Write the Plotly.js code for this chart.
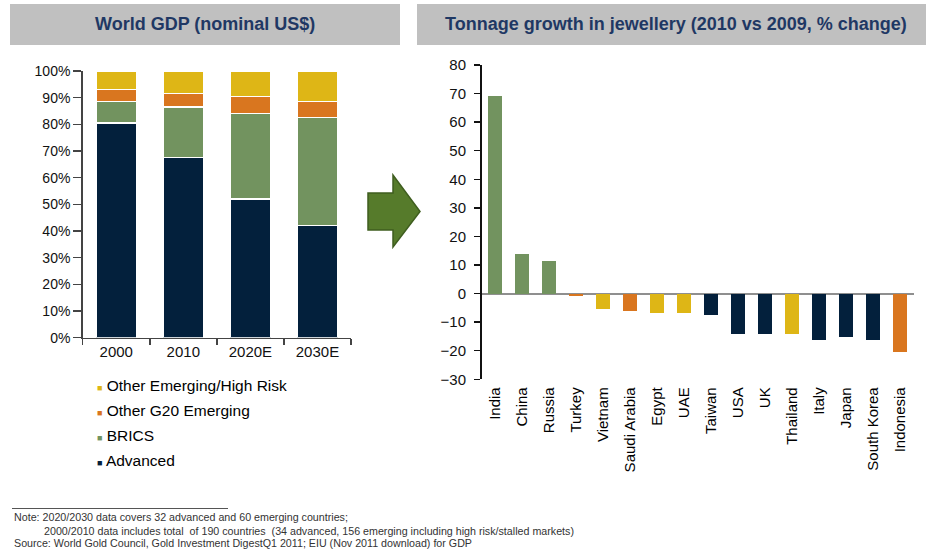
<!DOCTYPE html>
<html>
<head>
<meta charset="utf-8">
<script src="https://cdn.plot.ly/plotly-3.0.1.min.js"></script>
<style>
  html, body { margin: 0; padding: 0; background: #fff; }
  #chart { width: 926px; height: 550px; }
</style>
</head>
<body>
<div id="chart"></div>
<script>
// World GDP shares (% of total, nominal US$)
const gdpYears = ['2000', '2010', '2020E', '2030E'];
const advanced = [80.5, 67.5, 52, 42];
const brics = [8, 19, 32, 40.5];
const otherG20 = [4.5, 5, 6.5, 6];
const otherHighRisk = [7, 8.5, 9.5, 11.5];

// jewellery tonnage growth, 2010 vs 2009 (%)
const countries = ['India', 'China', 'Russia', 'Turkey', 'Vietnam', 'Saudi Arabia', 'Egypt', 'UAE',
  'Taiwan', 'USA', 'UK', 'Thailand', 'Italy', 'Japan', 'South Korea', 'Indonesia'];
const growth = [69, 14, 11.5, -1, -5.3, -6, -6.7, -6.7, -7.4, -14.3, -14.3, -14.3, -16.4, -15.2, -16.4, -20.5];
const countryGroup = ['BRICS', 'BRICS', 'BRICS', 'Other G20 Emerging', 'Other Emerging/High Risk',
  'Other G20 Emerging', 'Other Emerging/High Risk', 'Other Emerging/High Risk', 'Advanced', 'Advanced',
  'Advanced', 'Other Emerging/High Risk', 'Advanced', 'Advanced', 'Advanced', 'Other G20 Emerging'];

const colors = {
  'Advanced': '#03203c',
  'BRICS': '#72935f',
  'Other G20 Emerging': '#d9761f',
  'Other Emerging/High Risk': '#deb616'
};

const W = 926, H = 550;
const px = x => x / W;
const py = y => 1 - y / H;
const font = 'Liberation Sans, Arial, sans-serif';

function stackTrace(name, vals) {
  return {
    x: gdpYears, y: vals, name: name, type: 'bar', width: 0.6,
    xaxis: 'x', yaxis: 'y', showlegend: false, hoverinfo: 'y',
    marker: { color: colors[name], line: { color: '#fff', width: 1.2 } }
  };
}

let traces = [
  stackTrace('Advanced', advanced),
  stackTrace('BRICS', brics),
  stackTrace('Other G20 Emerging', otherG20),
  stackTrace('Other Emerging/High Risk', otherHighRisk),
  {
    x: countries, y: growth, type: 'bar', width: 0.52,
    xaxis: 'x2', yaxis: 'y2', showlegend: false,
    marker: { color: countryGroup.map(g => colors[g]) }
  }
];

function label(x, y, text, size, color, anchor) {
  return {
    xref: 'paper', yref: 'paper', x: px(x), y: py(y),
    xanchor: anchor || 'left', yanchor: 'middle', showarrow: false,
    text: text, font: { family: font, size: size, color: color }
  };
}

// legend rows built as text, top entry first
const legendOrder = ['Other Emerging/High Risk', 'Other G20 Emerging', 'BRICS', 'Advanced'];
let annotations = legendOrder.map((name, i) =>
  label(95, 385 + i * 25.2,
    '<span style="color:' + colors[name] + ';font-size:9px">■</span> ' + name, 15.5, '#000'));

annotations.push(
  label(205, 24, '<b>World GDP (nominal US$)</b>', 18, '#1f3864', 'center'),
  label(676, 24, '<b>Tonnage growth in jewellery (2010 vs 2009, % change)</b>', 18, '#1f3864', 'center'),
  label(12, 516.5, 'Note: 2020/2030 data covers 32 advanced and 60 emerging countries;', 10.7, '#333'),
  label(42, 531, '2000/2010 data includes total  of 190 countries  (34 advanced, 156 emerging including high risk/stalled markets)', 10.7, '#333'),
  label(12, 542.5, 'Source: World Gold Council, Gold Investment DigestQ1 2011; EIU (Nov 2011 download) for GDP', 10.7, '#333')
);

const arrowPts = [[368, 193], [393, 193], [393, 175], [420, 211.5], [393, 247], [393, 230], [368, 230]];
const arrowPath = 'M' + arrowPts.map(p => px(p[0]) + ',' + py(p[1])).join(' L') + ' Z';

let shapes = [
  { type: 'rect', xref: 'paper', yref: 'paper', layer: 'below',
    x0: px(10), x1: px(400), y0: py(45), y1: py(4), fillcolor: '#c0c0c0', line: { width: 0 } },
  { type: 'rect', xref: 'paper', yref: 'paper', layer: 'below',
    x0: px(417), x1: px(926), y0: py(45), y1: py(4), fillcolor: '#c0c0c0', line: { width: 0 } },
  { type: 'path', xref: 'paper', yref: 'paper', path: arrowPath,
    fillcolor: '#567b2b', line: { color: '#3f5e1f', width: 1.5 } },
  { type: 'line', xref: 'paper', yref: 'paper', x0: px(12), x1: px(228), y0: py(508.5), y1: py(508.5),
    line: { color: '#555', width: 1 } }
];

let layout = {
  width: W, height: H,
  margin: { l: 0, r: 0, t: 0, b: 0 },
  paper_bgcolor: '#fff', plot_bgcolor: '#fff',
  barmode: 'stack',
  showlegend: false,
  font: { family: font, color: '#000' },
  xaxis: {
    domain: [px(82.7), px(351)], anchor: 'y', type: 'category',
    showline: true, linecolor: '#444', linewidth: 1.5,
    ticks: 'outside', tickson: 'boundaries', ticklen: 6, tickcolor: '#444', tickwidth: 1.5,
    showgrid: false, tickfont: { size: 15, color: '#111' }
  },
  yaxis: {
    domain: [py(337.7), py(71)], anchor: 'x', range: [0, 100], dtick: 10, ticksuffix: '%',
    showline: true, linecolor: '#444', linewidth: 1.5,
    ticks: 'outside', ticklen: 8, tickcolor: '#444', tickwidth: 1.5,
    showgrid: false, zeroline: false, tickfont: { size: 14, color: '#111' }
  },
  xaxis2: {
    domain: [px(481.5), px(913.5)], anchor: 'y2', type: 'category',
    showline: false, ticks: '', showgrid: false, tickangle: -90,
    ticklabelstandoff: 4, tickfont: { size: 15, color: '#000' }
  },
  yaxis2: {
    domain: [py(379.3), py(65)], anchor: 'x2', range: [-30, 80], dtick: 10,
    showline: true, linecolor: '#111', linewidth: 1.5,
    ticks: 'outside', ticklen: 6, tickcolor: '#111', tickwidth: 1.5, ticklabelstandoff: 5,
    showgrid: false, zeroline: true, zerolinecolor: '#8f8f8f', zerolinewidth: 2,
    tickfont: { size: 15, color: '#111' }
  },
  annotations: annotations,
  shapes: shapes
};

Plotly.newPlot('chart', traces, layout, { displayModeBar: false, staticPlot: true });
</script>
</body>
</html>
